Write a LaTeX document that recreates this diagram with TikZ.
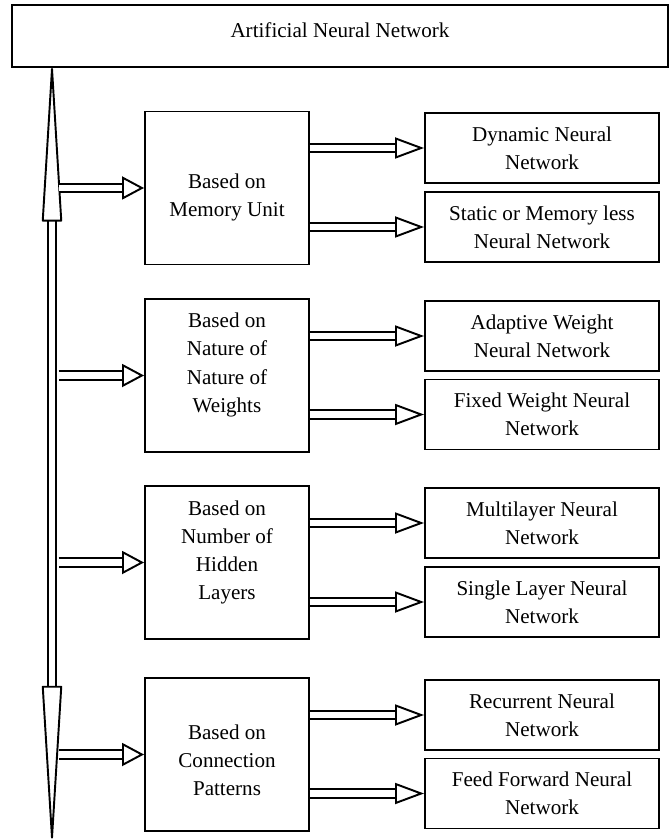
\documentclass[tikz,border=0pt]{standalone}
\usepackage{fontspec}
\setmainfont{Liberation Serif}
\usetikzlibrary{arrows.meta}

\tikzset{
  box/.style={draw, line width=1.1pt},
  catbox/.style={box, minimum width=3.28cm, minimum height=3.06cm},
  typebox/.style={box, align=center, minimum width=4.68cm, minimum height=1.4cm},
  fat/.style={double, line width=1.1pt, double distance=3.6pt},
  catarrow/.style={fat, -{Triangle[open,length=0.44cm,width=0.46cm,line width=1.1pt]}},
  typearrow/.style={fat, -{Triangle[open,length=0.58cm,width=0.42cm,line width=1.1pt]}},
  every label/.style={align=center}
}

\begin{document}
\begin{tikzpicture}[font=\fontsize{12pt}{16pt}\selectfont]
  \useasboundingbox (0,0) rectangle (13.42,-16.78);
  \node[box, minimum width=13.12cm, minimum height=1.24cm, label={[name=annt,yshift=0.12cm]center:Artificial Neural Network}] (ann) at (6.8,-0.72) {};

  % the four ways of sorting
  \node[catbox, label={[name=memoryt,yshift=-0.19cm]center:Based on\\Memory Unit}] (memory) at (4.54,-3.76) {};
  \node[catbox, label={[name=weightst,yshift=0.21cm]center:Based on\\Nature of\\Nature of\\Weights}] (weights) at (4.54,-7.51) {};
  \node[catbox, label={[name=layerst,yshift=0.2cm]center:Based on\\Number of\\Hidden\\Layers}] (layers) at (4.54,-11.25) {};
  \node[catbox, label={[name=patternt,yshift=-0.11cm]center:Based on\\Connection\\Patterns}] (pattern) at (4.54,-15.09) {};

  % the kinds of network
  \node[typebox] (dynamic) at (10.84,-2.96) {Dynamic Neural\\Network};
  \node[typebox] (static) at (10.84,-4.54) {Static or Memory less\\Neural Network};
  \node[typebox] (adaptive) at (10.84,-6.72) {Adaptive Weight\\Neural Network};
  \node[typebox] (fixed) at (10.84,-8.29) {Fixed Weight Neural\\Network};
  \node[typebox] (multi) at (10.84,-10.46) {Multilayer Neural\\Network};
  \node[typebox] (single) at (10.84,-12.04) {Single Layer Neural\\Network};
  \node[typebox] (recurrent) at (10.84,-14.30) {Recurrent Neural\\Network};
  \node[typebox] (feedfwd) at (10.84,-15.87) {Feed Forward Neural\\Network};

  % spine
  \coordinate (vbot) at (1.04,-16.77);
  \coordinate (spine) at (1.17,0);
  \draw[fat, {Triangle[open,round,length=3.38cm,width=0.4cm,line width=1.1pt]}-{Triangle[open,round,length=3.36cm,width=0.4cm,line width=1.1pt]}] (ann.south -| vbot) -- (vbot);

  \foreach \c in {memory,weights,layers,pattern}
    \draw[catarrow] (spine |- \c.west) -- (\c.west);

  \draw[typearrow] (memory.east |- dynamic.west) -- (dynamic.west);
  \draw[typearrow] (memory.east |- static.west) -- (static.west);
  \draw[typearrow] (weights.east |- adaptive.west) -- (adaptive.west);
  \draw[typearrow] (weights.east |- fixed.west) -- (fixed.west);
  \draw[typearrow] (layers.east |- multi.west) -- (multi.west);
  \draw[typearrow] (layers.east |- single.west) -- (single.west);
  \draw[typearrow] (pattern.east |- recurrent.west) -- (recurrent.west);
  \draw[typearrow] (pattern.east |- feedfwd.west) -- (feedfwd.west);
\end{tikzpicture}
\end{document}
